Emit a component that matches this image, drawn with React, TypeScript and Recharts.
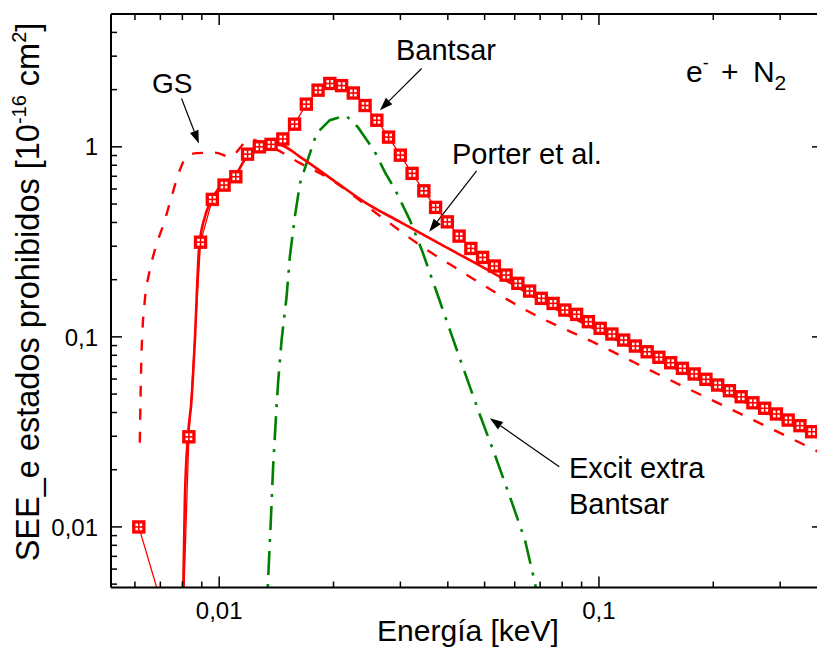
import React from "react";
import { LineChart, Line, XAxis, YAxis, ReferenceLine } from "recharts";

// Bantsar (squares) — energy [keV] and cross-section [1e-16 cm2]
const bantsarE = [
  0.006143, 0.007106, 0.008, 0.008322, 0.008932, 0.009593, 0.010301, 0.011062,
  0.011878, 0.012756, 0.013697, 0.014709, 0.015795, 0.016962, 0.018214, 0.01956,
  0.021004, 0.022555, 0.024222, 0.02601, 0.027931, 0.029994, 0.032209, 0.034588,
  0.037142, 0.039885, 0.042831, 0.045993, 0.04939, 0.053037, 0.056954, 0.06116,
  0.065676, 0.070527, 0.075735, 0.081328, 0.087334, 0.093784, 0.100733, 0.10817,
  0.116158, 0.124737, 0.133948, 0.14384, 0.154464, 0.165871, 0.17812, 0.191277,
  0.205405, 0.220574, 0.236863, 0.254355, 0.27314, 0.293314, 0.314975, 0.338236,
  0.363218,
];
const bantsarV = [
  0.01, 0.00373, 0.00255, 0.0298, 0.315, 0.529, 0.629, 0.696,
  0.915, 1.0, 1.03, 1.1, 1.316, 1.677, 1.987, 2.155,
  2.1, 1.92, 1.65, 1.38, 1.125, 0.904, 0.725, 0.587,
  0.48, 0.403, 0.339, 0.292, 0.262, 0.236, 0.2114, 0.1913,
  0.1742, 0.1595, 0.15, 0.1384, 0.1314, 0.1202, 0.1109, 0.1035,
  0.0962, 0.0895, 0.0835, 0.0781, 0.0731, 0.0683, 0.0638, 0.0598,
  0.0558, 0.0521, 0.0484, 0.045, 0.0421, 0.0393, 0.0365, 0.0341,
  0.0317,
];

// Porter et al. (solid)
const porterE = [
  0.008, 0.008122, 0.008272, 0.008457, 0.00863, 0.008858, 0.009171, 0.009451,
  0.01004, 0.01111, 0.01181, 0.01265, 0.0136, 0.01454, 0.01632, 0.01996,
  0.02444, 0.02992, 0.03814, 0.05162, 0.0721, 0.1, 0.1845, 0.389,
];
const porterV = [
  0.00255, 0.01387, 0.0298, 0.0465, 0.0962, 0.297, 0.4285, 0.506,
  0.616, 0.727, 0.886, 0.984, 1.033, 1.021, 0.886, 0.668,
  0.504, 0.403, 0.3086, 0.222, 0.1507, 0.1074, 0.0593, 0.0287,
];

// GS (dashed)
const gsE = [
  0.00618, 0.006245, 0.006372, 0.00654, 0.00677, 0.007194, 0.007492, 0.007877,
  0.008207, 0.008736, 0.009743, 0.01067, 0.01205, 0.0136, 0.01632, 0.01921,
  0.02731, 0.03544, 0.04101, 0.05452, 0.06385, 0.0994, 0.1538, 0.2394, 0.389,
];
const gsV = [
  0.0277, 0.0822, 0.156, 0.216, 0.286, 0.4115, 0.546, 0.754,
  0.886, 0.927, 0.932, 0.888, 1.094, 1.0085, 0.821, 0.693,
  0.414, 0.2844, 0.2372, 0.167, 0.1392, 0.0912, 0.0593, 0.0388, 0.0242,
];

// Excit extra Bantsar (dash-dot)
const extraE = [
  0.01331, 0.01346, 0.01368, 0.01387, 0.01416, 0.0143, 0.0146, 0.01505,
  0.01535, 0.01582, 0.01632, 0.01699, 0.01805, 0.01956, 0.02157, 0.02319,
  0.02449, 0.0257, 0.02731, 0.02902, 0.03178, 0.03418, 0.03722, 0.04051,
  0.04437, 0.0486, 0.05322, 0.0583, 0.06385, 0.06783, 0.06993,
];
const extraV = [
  0.00324, 0.0054, 0.01088, 0.02075, 0.0429, 0.0581, 0.0962, 0.1626,
  0.264, 0.428, 0.642, 0.821, 1.176, 1.382, 1.459, 1.269,
  1.084, 0.941, 0.736, 0.599, 0.4115, 0.286, 0.1764, 0.1086,
  0.0646, 0.0388, 0.0239, 0.01438, 0.00854, 0.00508, 0.00366,
];

const xTicks = [
  0.006, 0.007, 0.008, 0.009, 0.01, 0.02, 0.03, 0.04, 0.05, 0.06, 0.07, 0.08, 0.09,
  0.1, 0.2, 0.3,
];
const yTicks = [
  0.005, 0.006, 0.007, 0.008, 0.009, 0.01, 0.02, 0.03, 0.04, 0.05, 0.06, 0.07, 0.08,
  0.09, 0.1, 0.2, 0.3, 0.4, 0.5, 0.6, 0.7, 0.8, 0.9, 1, 2, 3, 4,
];
const xLabels: Record<string, string> = { "0.01": "0,01", "0.1": "0,1" };
const yLabels: Record<string, string> = { "0.01": "0,01", "0.1": "0,1", "1": "1" };

// annotation arrows: [from, to] in data units
const arrowGS = [{ x: 0.00796, y: 1.797 }, { x: 0.008842, y: 1.042 }];
const arrowBantsar = [{ x: 0.03412, y: 2.584 }, { x: 0.0265, y: 1.56 }];
const arrowPorter = [{ x: 0.04763, y: 0.748 }, { x: 0.03573, y: 0.357 }];
const arrowExtra = [{ x: 0.07861, y: 0.02075 }, { x: 0.05162, y: 0.0373 }];

const zip = (es: number[], vs: number[]) => es.map((e, i) => ({ e, v: vs[i] }));
const bantsar = zip(bantsarE, bantsarV);
const porter = zip(porterE, porterV);
const gs = zip(gsE, gsV);
const extra = zip(extraE, extraV);

const FONT = "'Liberation Sans', Arial, sans-serif";
const RED = "#ff0000";
const GREEN = "#008000";
const X_DOMAIN = [0.00519, 0.389];
const Y_DOMAIN = [0.0048, 5];

const BottomTick = ({ x, y, payload }: any) => {
  const lab = xLabels[String(payload.value)];
  return (
    <g>
      <line x1={x} x2={x} y1={y} y2={y - (lab ? 11 : 6)} stroke="#000" strokeWidth={1.5} />
      {lab && (
        <text x={x} y={y + 31} textAnchor="middle" fontSize={24} fontFamily={FONT} fill="#000">
          {lab}
        </text>
      )}
    </g>
  );
};

const TopTick = ({ x, y, payload }: any) => {
  const major = xLabels[String(payload.value)];
  return <line x1={x} x2={x} y1={y} y2={y + (major ? 11 : 6)} stroke="#000" strokeWidth={1.5} />;
};

const LeftTick = ({ x, y, payload }: any) => {
  const lab = yLabels[String(payload.value)];
  return (
    <g>
      <line x1={x} x2={x + (lab ? 11 : 6)} y1={y} y2={y} stroke="#000" strokeWidth={1.5} />
      {lab && (
        <text x={x - 13} y={y} dy="0.36em" textAnchor="end" fontSize={24} fontFamily={FONT} fill="#000">
          {lab}
        </text>
      )}
    </g>
  );
};

const RightTick = ({ x, y, payload }: any) => {
  const major = yLabels[String(payload.value)];
  return <line x1={x} x2={x - (major ? 11 : 6)} y1={y} y2={y} stroke="#000" strokeWidth={1.5} />;
};

const SquareDot = (props: any) => {
  const { cx, cy, index } = props;
  if (cx == null || cy == null || !isFinite(cy)) return <g key={`d${index}`} />;
  const h = 2.6;
  return (
    <g key={`d${index}`}>
      <rect x={cx - 6.7} y={cy - 6.7} width={13.4} height={13.4} fill={RED} />
      <rect x={cx - 3.4} y={cy - 3.4} width={h} height={h} fill="#fff" />
      <rect x={cx + 0.8} y={cy - 3.4} width={h} height={h} fill="#fff" />
      <rect x={cx - 3.4} y={cy + 0.8} width={h} height={h} fill="#fff" />
      <rect x={cx + 0.8} y={cy + 0.8} width={h} height={h} fill="#fff" />
    </g>
  );
};

const Arrow = (p: any) => {
  const { x1, y1, x2, y2 } = p;
  const a = Math.atan2(y2 - y1, x2 - x1);
  const L = 13;
  const W = 4.5;
  const bx = x2 - L * Math.cos(a);
  const by = y2 - L * Math.sin(a);
  const nx = -Math.sin(a) * W;
  const ny = Math.cos(a) * W;
  return (
    <g>
      <line x1={x1} y1={y1} x2={bx} y2={by} stroke="#000" strokeWidth={1.2} />
      <polygon points={`${x2},${y2} ${bx + nx},${by + ny} ${bx - nx},${by - ny}`} fill="#000" />
    </g>
  );
};

export default function App() {
  return (
    <div style={{ position: "absolute", left: 0, top: 0, width: 817, height: 659, overflow: "hidden", background: "#fff" }}>
      <LineChart width={830} height={659} margin={{ top: 13, right: 6, bottom: 70.5, left: 110 }}>
        <XAxis
          dataKey="e"
          type="number"
          scale="log"
          domain={X_DOMAIN}
          allowDataOverflow
          ticks={xTicks}
          interval={0}
          tickSize={0}
          tickMargin={0}
          tickLine={false}
          height={1}
          tick={<BottomTick />}
          axisLine={{ stroke: "#000", strokeWidth: 2 }}
        />
        <XAxis
          xAxisId="top"
          orientation="top"
          dataKey="e"
          type="number"
          scale="log"
          domain={X_DOMAIN}
          allowDataOverflow
          ticks={xTicks}
          interval={0}
          tickSize={0}
          tickMargin={0}
          tickLine={false}
          height={1}
          tick={<TopTick />}
          axisLine={{ stroke: "#000", strokeWidth: 2 }}
        />
        <YAxis
          dataKey="v"
          type="number"
          scale="log"
          domain={Y_DOMAIN}
          allowDataOverflow
          ticks={yTicks}
          interval={0}
          tickSize={0}
          tickMargin={0}
          tickLine={false}
          width={1}
          tick={<LeftTick />}
          axisLine={{ stroke: "#000", strokeWidth: 2 }}
        />
        <YAxis
          yAxisId="right"
          orientation="right"
          type="number"
          scale="log"
          domain={Y_DOMAIN}
          allowDataOverflow
          ticks={yTicks}
          interval={0}
          tickSize={0}
          tickMargin={0}
          tickLine={false}
          width={1}
          tick={<RightTick />}
          axisLine={{ stroke: "#000", strokeWidth: 2 }}
        />
        <Line
          data={gs}
          dataKey="v"
          type="monotone"
          stroke={RED}
          strokeWidth={2.4}
          strokeDasharray="11 12"
          dot={false}
          activeDot={false}
          isAnimationActive={false}
        />
        <Line
          data={extra}
          dataKey="v"
          type="linear"
          stroke={GREEN}
          strokeWidth={2.6}
          strokeDasharray="24 9 3 9"
          dot={false}
          activeDot={false}
          isAnimationActive={false}
        />
        <Line
          data={porter}
          dataKey="v"
          type="monotone"
          stroke={RED}
          strokeWidth={2.6}
          dot={false}
          activeDot={false}
          isAnimationActive={false}
        />
        <Line
          data={bantsar}
          dataKey="v"
          type="linear"
          stroke={RED}
          strokeWidth={1.3}
          dot={SquareDot}
          activeDot={false}
          isAnimationActive={false}
        />
        <ReferenceLine segment={arrowGS} ifOverflow="visible" shape={Arrow} />
        <ReferenceLine segment={arrowBantsar} ifOverflow="visible" shape={Arrow} />
        <ReferenceLine segment={arrowPorter} ifOverflow="visible" shape={Arrow} />
        <ReferenceLine segment={arrowExtra} ifOverflow="visible" shape={Arrow} />
      </LineChart>
      <svg
        width={817}
        height={659}
        style={{ position: "absolute", left: 0, top: 0, pointerEvents: "none" }}
        fontFamily={FONT}
        fill="#000"
      >
        <text x={152} y={93} fontSize={28}>GS</text>
        <text x={396} y={60} fontSize={29}>Bantsar</text>
        <text x={452} y={164} fontSize={29}>Porter et al.</text>
        <text x={569} y={478} fontSize={29}>Excit extra</text>
        <text x={569} y={514} fontSize={29}>Bantsar</text>
        <text x={686} y={82} fontSize={30}>
          e<tspan dy={-13} fontSize={18}>-</tspan>
          <tspan dy={13} dx={4}> +</tspan>
          <tspan dx={6}> N</tspan>
          <tspan dy={8} fontSize={21}>2</tspan>
        </text>
        <text x={468} y={641} fontSize={30} textAnchor="middle">Energía [keV]</text>
        <text transform="rotate(-90)" x={-292} y={39} fontSize={32.5} textAnchor="middle">
          SEE_e estados prohibidos [10<tspan dy={-13} fontSize={20}>-16</tspan>
          <tspan dy={13}> cm</tspan>
          <tspan dy={-13} fontSize={20}>2</tspan>
          <tspan dy={13}>]</tspan>
        </text>
      </svg>
    </div>
  );
}
